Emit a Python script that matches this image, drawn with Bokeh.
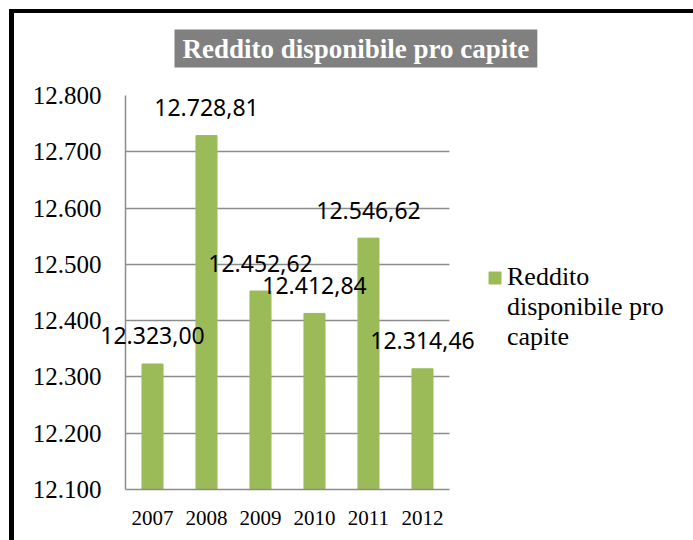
from bokeh.plotting import figure
from bokeh.models import Range1d, FixedTicker, Legend, LegendItem, ColumnDataSource, Title
from bokeh.core.properties import value
from bokeh.embed import file_html
from bokeh.resources import INLINE

# ---- data ----
years = ["2007", "2008", "2009", "2010", "2011", "2012"]
values = [12323.00, 12728.81, 12452.62, 12412.84, 12546.62, 12314.46]
value_labels = ["12.323,00", "12.728,81", "12.452,62", "12.412,84", "12.546,62", "12.314,46"]
y_ticks = [12100, 12200, 12300, 12400, 12500, 12600, 12700, 12800]
y_tick_labels = ["12.100", "12.200", "12.300", "12.400", "12.500", "12.600", "12.700", "12.800"]
legend_lines = ["Reddito", "disponibile pro", "capite"]   # "Reddito disponibile pro capite"
title_text = "Reddito disponibile pro capite"
y_min, y_max = 12100, 12800

BAR = "#9BBB59"
GRID = "#8c8c8c"

n = len(years)
x_pos = [i + 0.5 for i in range(n)]          # category centres on a numeric scale
src = ColumnDataSource(dict(x=x_pos, year=years, value=values, label=value_labels))

# the frame reaches to the right so that the legend can sit beside the bars
p = figure(x_range=Range1d(0, 10.26), y_range=Range1d(y_min, y_max), width=684, height=531,
           output_backend="svg", toolbar_location=None, title=title_text,
           min_border_left=111, min_border_right=19, min_border_top=82, min_border_bottom=55)
p.styles = {"border-left": "5px solid black", "border-top": "4px solid black",
            "margin-left": "9px", "margin-top": "9px"}

p.title.align = "left"
p.title.offset = 49
p.title.text_font = "Liberation Serif"
p.title.text_font_style = "bold"
p.title.text_font_size = "27px"
p.title.text_color = "white"
p.title.background_fill_color = "#808080"
p.title.padding = (8, 4)
p.title.standoff = 26

# empty spacer between the title box and the plot area
p.add_layout(Title(text=" ", text_font_size="1px", standoff=12), "above")

r = p.vbar(x="x", top="value", bottom=y_min, width=0.39, color=BAR, source=src)

p.text(x="x", y="value", text="label", source=src, text_align="center",
       text_baseline="alphabetic", y_offset=-28, text_font=value("Noto Sans"),
       text_font_size="23px", text_color="black", level="overlay")

p.outline_line_color = None
p.xgrid.grid_line_color = None
p.ygrid.grid_line_color = GRID
p.ygrid.grid_line_width = 1.5
p.ygrid.cross_bounds = (0, n)

p.yaxis.ticker = FixedTicker(ticks=y_ticks)
p.yaxis.major_label_overrides = dict(zip(y_ticks, y_tick_labels))
p.xaxis.ticker = FixedTicker(ticks=x_pos)
p.xaxis.major_label_overrides = dict(zip(x_pos, years))
p.xaxis.bounds = (0, n)
for ax in (p.xaxis, p.yaxis):
    ax.axis_line_color = GRID
    ax.axis_line_width = 1.5
    ax.major_tick_line_color = None
    ax.minor_tick_line_color = None
    ax.major_label_text_font = "Liberation Serif"
    ax.major_label_text_color = "black"
p.yaxis.major_label_text_font_size = "25px"
p.yaxis.major_label_standoff = 18
p.xaxis.major_label_text_font_size = "21px"
p.xaxis.major_label_standoff = 15

items = [LegendItem(label=legend_lines[0], renderers=[r])]
items += [LegendItem(label=t, renderers=[]) for t in legend_lines[1:]]
legend = Legend(items=items, location=(362, 137),
                label_text_font="Liberation Serif", label_text_font_size="26px",
                label_text_color="black", label_height=30, spacing=0,
                glyph_width=15, glyph_height=15, label_standoff=5, padding=0, margin=0,
                border_line_color=None, background_fill_alpha=0)
p.add_layout(legend)

open("out.html", "w").write(file_html(p, INLINE))
